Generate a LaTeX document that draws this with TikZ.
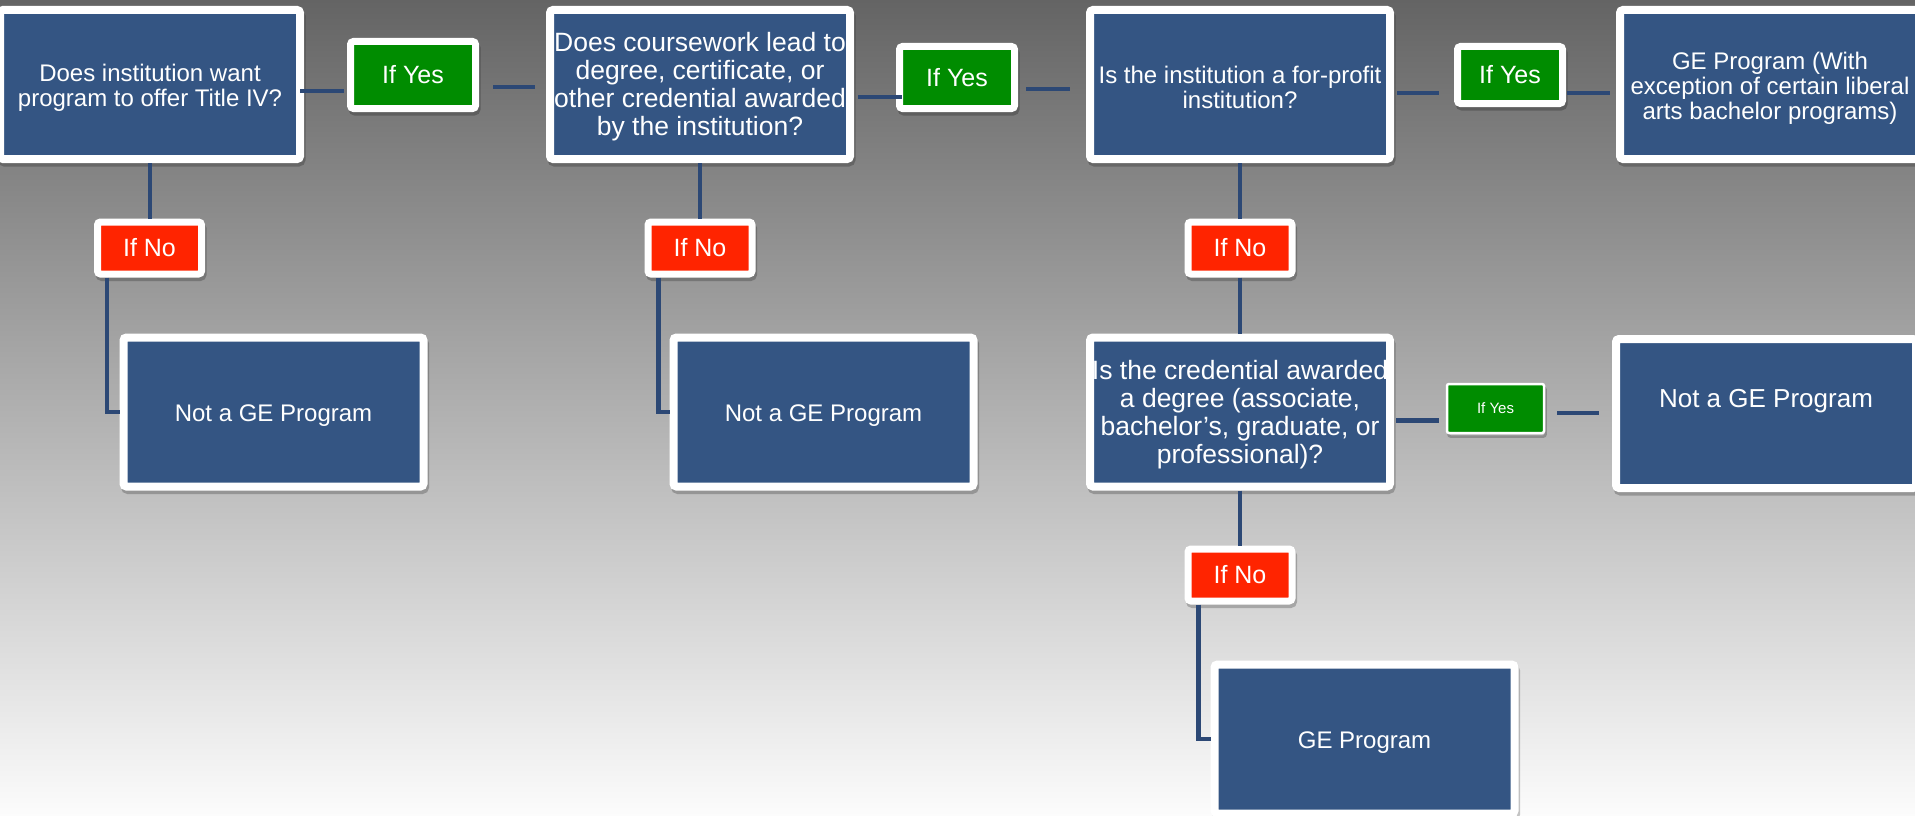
\documentclass[tikz,border=0pt]{standalone}
\usepackage{fontspec}
\setmainfont{Liberation Sans}
\definecolor{boxblue}{RGB}{52,85,131}
\definecolor{linkblue}{RGB}{44,72,117}
\definecolor{yesgreen}{RGB}{0,140,0}
\definecolor{nored}{RGB}{255,36,0}
\definecolor{bgtop}{RGB}{100,100,100}
\definecolor{bgbot}{RGB}{252,252,252}
\newcommand\topgap{\rule{0pt}{24pt}}
\begin{document}
\begin{tikzpicture}[x=1pt,y=-1pt,
  shadowed/.style={preaction={draw=black, draw opacity=0.22, line width=#1, transform canvas={xshift=1.5pt,yshift=-3.5pt}}},
  bluebox/.style={shadowed=8pt, fill=boxblue, draw=white, line width=8pt, rounded corners=3pt,
    minimum width=300pt, minimum height=149pt, inner sep=0pt, text=white, align=center,
    font=\fontsize{24}{25}\selectfont},
  yesbox/.style={shadowed=7pt, fill=yesgreen, draw=white, line width=7pt, rounded corners=3pt,
    inner sep=0pt, text=white, font=\fontsize{25}{28}\selectfont},
  smallyes/.style={shadowed=2.5pt, fill=yesgreen, draw=white, line width=2.5pt, rounded corners=2pt,
    inner sep=0pt, text=white, minimum width=97pt, minimum height=49pt, font=\fontsize{15}{17}\selectfont},
  nobox/.style={shadowed=7pt, fill=nored, draw=white, line width=7pt, rounded corners=3pt,
    minimum width=104pt, minimum height=52pt, inner sep=0pt, text=white, font=\fontsize{25}{28}\selectfont},
  link/.style={draw=linkblue, line width=4.5pt}
]
\useasboundingbox (0,0) rectangle (1915,816);
\shade[top color=bgtop, bottom color=bgbot] (0,0) rectangle (1915,816);

% top row
\node[bluebox] (b1) at (150,84.5) {\topgap Does institution want\\program to offer Title IV?};
\node[yesbox, minimum width=125pt, minimum height=67pt] (y1) at (413,75) {If Yes};
\node[bluebox, font=\fontsize{26.5}{28}\selectfont] (b2) at (700,84.5) {\topgap Does coursework lead to\\degree, certificate, or\\other credential awarded\\by the institution?};
\node[yesbox, minimum width=115pt, minimum height=62pt] (y2) at (957,77.5) {If Yes};
\node[bluebox] (b3) at (1240,84.5) {\topgap Is the institution a for-profit\\institution?};
\node[yesbox, minimum width=105pt, minimum height=57pt] (y3) at (1510,75) {If Yes};
\node[bluebox] (b4) at (1770,84.5) {\topgap GE Program (With\\exception of certain liberal\\arts bachelor programs)};

% If No labels
\node[nobox] (n1) at (149.5,248) {If No};
\node[nobox] (n2) at (700,248) {If No};
\node[nobox] (n3) at (1240,248) {If No};

% middle row
\node[bluebox] (ng1) at (273.5,412) {\topgap Not a GE Program};
\node[bluebox] (ng2) at (823.5,412) {\topgap Not a GE Program};
\node[bluebox, font=\fontsize{26.5}{28}\selectfont] (b5) at (1240,412) {\topgap Is the credential awarded\\a degree (associate,\\bachelor’s, graduate, or\\professional)?};
\node[smallyes] (ys) at (1495.5,408.5) {If Yes};
\node[bluebox, font=\fontsize{26}{28}\selectfont, text depth=31pt] (ng3) at (1766,413.5) {Not a GE Program};

% bottom
\node[nobox] (n4) at (1240,575) {If No};
\node[bluebox] (ge) at (1364.5,739) {\topgap GE Program};

% connectors
\draw[link, shorten <=-4pt, shorten >=3pt] (b1.east |- 0,91) -- (y1.west |- 0,91);
\draw[link, shorten <=14pt, shorten >=11pt] (y1.east |- 0,87) -- (b2.west |- 0,87);
\draw[link, shorten <=4pt, shorten >=-6pt] (b2.east |- 0,97) -- (y2.west |- 0,97);
\draw[link, shorten <=8pt, shorten >=16pt] (y2.east |- 0,89) -- (b3.west |- 0,89);
\draw[link, shorten <=3pt, shorten >=15pt] (b3.east |- 0,93) -- (y3.west |- 0,93);
\draw[link, shorten <=1pt, shorten >=6pt] (y3.east |- 0,93) -- (b4.west |- 0,93);

\draw[link] (b1.south) -- (b1.south |- n1.north);
\draw[link] ([xshift=13pt]n1.south west) |- (ng1.west);
\draw[link] (b2.south) -- (b2.south |- n2.north);
\draw[link] ([xshift=14pt]n2.south west) |- (ng2.west);
\draw[link] (b3.south) -- (n3.north);
\draw[link] (n3.south) -- (b5.north);
\draw[link, shorten <=2pt, shorten >=7pt] (b5.east |- 0,420.5) -- (ys.west |- 0,420.5);
\draw[link, shorten <=12pt, shorten >=13pt] (ys.east |- 0,413) -- (ng3.west |- 0,413);
\draw[link] (b5.south) -- (n4.north);
\draw[link] ([xshift=14pt]n4.south west) |- (ge.west);
\end{tikzpicture}
\end{document}
